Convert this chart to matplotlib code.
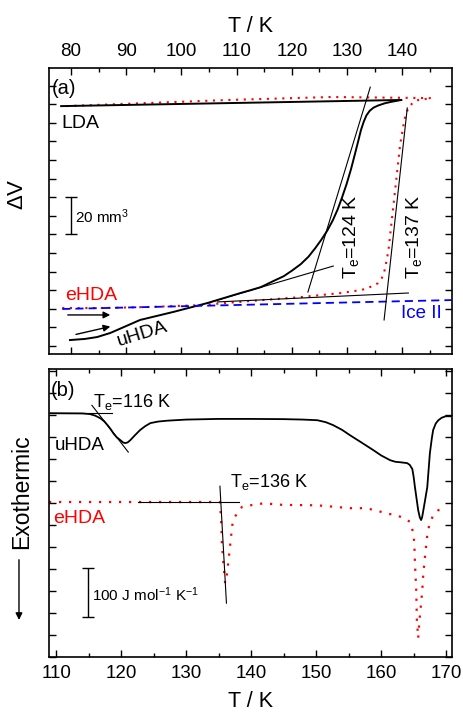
import numpy as np
import matplotlib
matplotlib.use("Agg")
import matplotlib.pyplot as plt

plt.rcParams["font.family"] = ["Liberation Sans", "DejaVu Sans"]
plt.rcParams["mathtext.fontset"] = "custom"
plt.rcParams["mathtext.rm"] = "Liberation Sans"
plt.rcParams["mathtext.it"] = "Liberation Sans:italic"

# ---- panel (a): volume change on heating, arbitrary units (1 unit = 10 mm^3)
uhda_T = [79.8, 82.5, 84.7, 87.1, 92.5, 98.5, 104.7, 110.7, 112.5, 114.4, 116.7, 118.5,
          120.0, 121.6, 123.0, 124.2, 125.3, 126.4, 127.4, 128.3, 129.1, 129.9, 130.7,
          131.4, 132.0, 132.5, 133.0, 133.5, 134.1, 134.8, 135.6, 136.8, 138.0, 139.8]
uhda_V = [0.32, 0.38, 0.48, 0.70, 1.40, 1.83, 2.31, 2.85, 3.00, 3.17, 3.50, 3.75,
          4.05, 4.40, 4.80, 5.25, 5.70, 6.20, 6.75, 7.35, 8.00, 8.70, 9.50,
          10.30, 11.00, 11.60, 12.05, 12.40, 12.65, 12.82, 12.93, 13.05, 13.13, 13.23]
lda_T = [139.8, 78.2]
lda_V = [13.23, 12.90]

ehda_T = [78.4, 85.3, 94.4, 103.5, 112.5, 121.6, 128.9, 132.6, 134.7, 135.6, 136.2, 136.6,
          136.9, 137.5, 138.2, 138.9, 139.6, 140.4, 140.9, 141.3, 142.0, 142.9, 145.3,
          127.1, 108.5, 78.9]
ehda_V = [2.04, 2.04, 2.10, 2.20, 2.42, 2.63, 2.85, 3.01, 3.23, 3.38, 3.60, 3.85,
          4.20, 5.16, 7.04, 8.92, 10.81, 12.20, 12.65, 12.90, 13.10, 13.23, 13.33,
          13.39, 13.23, 12.90]

ice2_T = [78.4, 148.9]
ice2_V = [1.99, 2.47]

# onset construction lines (a)
tan_a = [
    ([122.9, 134.2], [2.90, 13.92]),
    ([104.7, 127.5], [2.31, 4.30]),
    ([136.7, 140.9], [1.40, 12.80]),
    ([106.5, 141.1], [2.37, 2.85]),
]

# ---- panel (b): DSC scans, arbitrary units
dsc_u_T = [109.1, 114.0, 115.2, 116.0, 116.8, 117.4, 117.9, 118.4, 118.8, 119.3, 119.9,
           120.3, 120.6, 121.0, 121.4, 122.0, 122.9, 123.7, 124.5, 125.7, 127.1, 130.0,
           135.0, 140.0, 145.0, 148.0, 150.2, 151.5, 152.6, 154.0, 155.2, 156.8, 157.8,
           158.8, 160.0, 161.4, 162.2, 162.9, 164.0, 164.4, 164.8, 165.0, 165.2, 165.5,
           165.7, 165.95, 166.15, 166.3, 166.5, 166.8, 167.1, 167.3, 167.5, 167.8, 168.0,
           168.4, 168.8, 169.3, 169.9, 170.9]
dsc_u_C = [11.09, 11.08, 11.05, 10.98, 10.86, 10.72, 10.55, 10.36, 10.18, 10.00, 9.86,
           9.76, 9.73, 9.76, 9.86, 10.05, 10.32, 10.50, 10.64, 10.71, 10.75, 10.80,
           10.83, 10.83, 10.82, 10.80, 10.77, 10.68, 10.55, 10.33, 10.09, 9.79, 9.60,
           9.41, 9.17, 8.95, 8.88, 8.86, 8.82, 8.74, 8.55, 8.20, 7.73, 7.10,
           6.68, 6.35, 6.23, 6.35, 6.68, 7.20, 7.73, 8.50, 9.27, 9.95, 10.32,
           10.62, 10.77, 10.88, 10.95, 10.95]

dsc_e_T = [108.9, 135.2, 135.4, 135.5, 135.7, 136.0, 136.3, 136.8, 137.1, 137.5, 138.6,
           140.1, 141.9, 144.9, 150.2, 155.2, 157.5, 159.1, 160.6, 162.2, 163.2, 164.5,
           164.9, 165.1, 165.2, 165.4, 165.5, 165.7, 165.9, 166.3, 166.5, 166.8, 167.1,
           167.4, 168.0, 168.8, 170.0]
dsc_e_C = [7.05, 7.05, 6.14, 5.18, 4.41, 3.36, 3.80, 5.17, 6.00, 6.38, 6.83,
           6.91, 6.99, 6.92, 6.90, 6.77, 6.77, 6.68, 6.55, 6.45, 6.36, 6.14,
           5.68, 5.23, 4.27, 3.05, 1.68, 0.86, 1.68, 2.91, 3.82, 4.73, 5.55,
           6.00, 6.45, 6.68, 6.77]

# onset construction lines (b)
tan_b = [
    ([109.1, 118.6], [11.09, 11.09]),
    ([115.5, 121.1], [11.45, 9.32]),
    ([122.6, 138.2], [7.05, 7.05]),
    ([135.2, 136.2], [7.77, 2.45]),
]

RED = "#ff0000"
BLUE = "#0000ff"

fig = plt.figure(figsize=(4.63, 7.15), dpi=100)
ax1 = fig.add_axes([0.1058, 0.5049, 0.8704, 0.4])
ax2 = fig.add_axes([0.1058, 0.0811, 0.8704, 0.4028])

# ---------------- (a)
ax1.plot(ehda_T, ehda_V, color=RED, lw=1.5, ls=(0, (1, 2.7)))
ax1.plot(uhda_T, uhda_V, color="k", lw=1.4)
ax1.plot(lda_T, lda_V, color="k", lw=1.4)
ax1.plot(ice2_T, ice2_V, color=BLUE, lw=1.3, ls=(0, (4.5, 2.8)))
for xs, ys in tan_a:
    ax1.plot(xs, ys, color="k", lw=0.8)

ax1.annotate("", xy=(87.6, 1.67), xytext=(78.9, 1.67),
             arrowprops=dict(arrowstyle="-|>", color="k", lw=1, mutation_scale=10))
ax1.annotate("", xy=(87.6, 1.08), xytext=(80.4, 0.59),
             arrowprops=dict(arrowstyle="-|>", color="k", lw=1, mutation_scale=10))

ax1.errorbar([80.0], [7.0], yerr=[1.0], color="k", lw=1, capsize=4, capthick=1)
ax1.text(80.8, 6.94, r"20 mm$^{\mathregular{3}}$", fontsize=11, va="center")

ax1.text(76.5, 13.87, "(a)", fontsize=14.5, va="center")
ax1.text(78.2, 11.99, "LDA", fontsize=14, va="center")
ax1.text(78.9, 2.74, "eHDA", fontsize=14, va="center", color=RED)
ax1.text(92.9, 0.65, "uHDA", fontsize=14, va="center", ha="center", rotation=17)
ax1.text(139.8, 1.77, "Ice II", fontsize=13.5, va="center", color=BLUE)
ax1.text(130.7, 5.86, r"T$_{\mathregular{e}}$=124 K", fontsize=14, rotation=90,
         ha="center", va="center")
ax1.text(142.2, 5.86, r"T$_{\mathregular{e}}$=137 K", fontsize=14, rotation=90,
         ha="center", va="center")

ax1.set_xlim(76, 149)
ax1.set_ylim(-0.43, 14.95)
ax1.set_xticks(np.arange(80, 141, 10))
ax1.set_xticks(np.arange(80, 150, 5), minor=True)
ax1.set_yticks(np.arange(0, 15))
ax1.xaxis.set_label_position("top")
ax1.set_xlabel("T / K", fontsize=15.5, labelpad=8)
ax1.tick_params(which="both", direction="in", top=True, bottom=True, left=True, right=True,
                labeltop=True, labelbottom=False, labelleft=False)

# ---------------- (b)
ax2.plot(dsc_e_T, dsc_e_C, color=RED, lw=1.6, ls=(0, (1, 3.5)))
ax2.plot(dsc_u_T, dsc_u_C, color="k", lw=1.3)
for xs, ys in tan_b:
    ax2.plot(xs, ys, color="k", lw=0.8)

ax2.errorbar([114.9], [2.93], yerr=[1.115], color="k", lw=1, capsize=4, capthick=1)
ax2.text(115.5, 2.82, r"100 J mol$^{\mathregular{-1}}$ K$^{\mathregular{-1}}$", fontsize=11,
         va="center")

ax2.text(109.2, 12.14, "(b)", fontsize=14.5, va="center")
ax2.text(115.7, 11.59, r"T$_{\mathregular{e}}$=116 K", fontsize=13, va="center")
ax2.text(109.8, 9.64, "uHDA", fontsize=13.5, va="center")
ax2.text(109.5, 6.32, "eHDA", fontsize=14, va="center", color=RED)
ax2.text(136.8, 7.95, r"T$_{\mathregular{e}}$=136 K", fontsize=13, va="center")

ax2.set_xlim(108.9, 170.9)
ax2.set_ylim(0, 13.1)
ax2.set_xticks(np.arange(110, 171, 10))
ax2.set_xticks(np.arange(110, 171, 5), minor=True)
ax2.set_yticks(np.arange(0, 14))
ax2.set_xlabel("T / K", fontsize=15.5, labelpad=6)
ax2.tick_params(which="both", direction="in", top=True, bottom=True, left=True, right=True,
                labelleft=False)

for ax in (ax1, ax2):
    for s in ax.spines.values():
        s.set_linewidth(1.2)
    ax.tick_params(which="major", length=5, width=1, labelsize=13.5, pad=6)
    ax.tick_params(which="minor", length=3, width=1)

fig.text(0.038, 0.729, r"$\mathregular{\Delta}$V", fontsize=16, rotation=90,
         ha="center", va="center")
fig.text(0.047, 0.313, "Exothermic", fontsize=16.5, rotation=90, ha="center", va="center")
fig.add_artist(matplotlib.patches.FancyArrowPatch(
    (0.041, 0.221), (0.041, 0.129), transform=fig.transFigure,
    arrowstyle="-|>", mutation_scale=10, color="k", lw=1))

fig.savefig("out.png", dpi=100)
